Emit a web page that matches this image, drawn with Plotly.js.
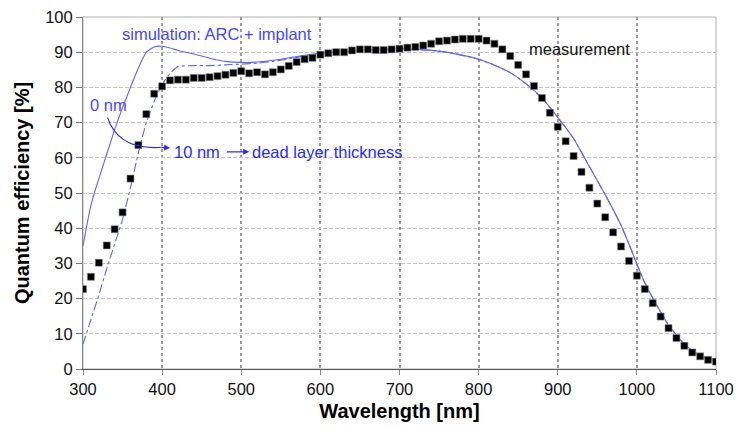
<!DOCTYPE html>
<html>
<head>
<meta charset="utf-8">
<script src="https://cdn.plot.ly/plotly-3.0.1.min.js"></script>
<style>html,body{margin:0;padding:0;background:#fff;}#chart{width:752px;height:429px;}</style>
</head>
<body>
<div id="chart"></div>
<script>
// Measurement (every 10 nm)
const wavelength = [300,310,320,330,340,350,360,370,380,390,400,410,420,430,440,450,460,470,480,490,
  500,510,520,530,540,550,560,570,580,590,600,610,620,630,640,650,660,670,680,690,
  700,710,720,730,740,750,760,770,780,790,800,810,820,830,840,850,860,870,880,890,
  900,910,920,930,940,950,960,970,980,990,1000,1010,1020,1030,1040,1050,1060,1070,1080,1090,1100];
const measured = [22.7,26.2,30.2,35.1,39.7,44.5,54.1,63.6,72.4,78.2,80.3,82.0,82.2,82.2,82.7,82.7,82.9,83.2,83.6,84.1,
  84.6,84.0,84.3,83.7,84.3,85.1,86.1,87.2,88.0,88.4,89.3,89.7,90.0,90.0,90.5,90.8,90.8,90.6,90.6,90.8,
  91.0,91.3,91.5,91.9,92.4,93.1,93.3,93.6,93.8,93.8,93.8,93.3,92.4,90.8,88.9,86.4,83.7,80.4,77.0,72.8,
  68.8,64.7,60.5,56.0,51.5,47.0,43.1,38.8,34.8,30.7,26.5,22.7,18.7,14.9,11.6,8.8,6.6,4.7,3.6,2.6,2.1];

// Simulation, 0 nm dead layer
const sim0X = [300,305,310,315,320,330,340,350,360,370,380,390,400,410,420,440,460,480,500,520,540,560,580,600,
  620,650,700,750,780,800,820,840,860,880,900,920,940,960,970,980,990,1000,1010,1020,1040,1060,1080,1100];
const sim0Y = [35,41,46.5,50.5,54,61,68,74.3,80,85.5,90,91.5,91.7,91.2,90.5,89.5,88.3,87.4,87.1,87.2,87.7,88.4,89.1,89.7,
  90.1,90.5,91.0,90.3,89.1,88.0,86.3,84.2,81.0,77.0,71.5,65.5,57.5,49.5,45.3,40.8,35.5,29.8,24.5,20.2,12.5,7.0,3.8,2.2];

// Simulation, 10 nm dead layer
const sim10X = [300,310,320,330,340,350,360,370,380,390,400,410,420,440,460,480,500,520,540,560,580,600,
  620,650,700,750,780,800,820,840,860,880,900,920,940,960,970,980,990,1000,1010,1020,1040,1060,1080,1100];
const sim10Y = [7,14,21,28.5,35.5,42.5,51.5,61.5,70,76,80.8,84,85.9,86.2,86.2,86.4,86.6,86.9,87.4,88.1,88.9,89.7,
  90.1,90.5,91.0,90.3,89.1,88.0,86.3,84.2,81.0,77.0,71.5,65.5,57.5,49.5,45.3,40.8,35.5,29.8,24.5,20.2,12.5,7.0,3.8,2.2];

const xTicks = [300,400,500,600,700,800,900,1000,1100];
const yTicks = [0,10,20,30,40,50,60,70,80,90,100];

const FONT = '"Liberation Sans", Arial, sans-serif';
const simColor = '#6262ff';

const traces = [
  {x: sim0X, y: sim0Y, mode: 'lines', line: {color: simColor, width: 1.1, shape: 'spline', smoothing: 0.5}, hoverinfo: 'skip'},
  {x: sim10X, y: sim10Y, mode: 'lines', line: {color: simColor, width: 1.1, dash: 'dashdot', shape: 'spline', smoothing: 0.5}, hoverinfo: 'skip'},
  {x: wavelength, y: measured, mode: 'markers', marker: {symbol: 'square', size: 7, color: '#000',
     line: {color: '#888', width: 0.6}}}
];

const layout = {
  width: 752, height: 429,
  margin: {l: 83, r: 36, t: 17, b: 60},
  paper_bgcolor: '#fff', plot_bgcolor: '#fff',
  showlegend: false,
  font: {family: FONT, size: 16.5, color: '#111'},
  xaxis: {
    range: [300, 1100], tickvals: xTicks, ticktext: xTicks.map(String),
    ticks: 'outside', ticklen: 5, tickcolor: '#888', tickwidth: 1,
    showline: true, linecolor: '#555', linewidth: 1,
    showgrid: true, gridcolor: '#9a9a9a', gridwidth: 2, griddash: 'dot',
    zeroline: false,
    tickfont: {family: FONT, size: 16.5, color: '#111'},
    title: {text: 'Wavelength [nm]', font: {family: FONT, size: 20, color: '#000', weight: 'bold'}, standoff: 7}
  },
  yaxis: {
    range: [0, 100], tickvals: yTicks, ticktext: yTicks.map(String),
    ticks: 'outside', ticklen: 6, tickcolor: '#777', tickwidth: 1,
    showline: true, linecolor: '#888', linewidth: 1,
    showgrid: true, gridcolor: '#c4c4c4', gridwidth: 1, griddash: '4px,2px',
    zeroline: false,
    tickfont: {family: FONT, size: 16.5, color: '#111'},
    title: {text: 'Quantum efficiency [%]', font: {family: FONT, size: 20, color: '#000', weight: 'bold'}, standoff: 10}
  },
  shapes: [
    {type: 'rect', xref: 'paper', yref: 'paper', x0: 0, x1: 1, y0: 0, y1: 1,
     line: {color: '#b0b0b0', width: 1}, layer: 'below'},
    {type: 'path', xref: 'x', yref: 'y', path: 'M 331,71.4 Q 345,62 400,63',
     line: {color: '#2a2aff', width: 1.2}}
  ],
  annotations: [
    {x: 469, y: 95.3, xref: 'x', yref: 'y', text: 'simulation: ARC + implant', showarrow: false,
     font: {family: FONT, size: 16.5, color: '#4646ff'}},
    {x: 332.5, y: 74.9, xref: 'x', yref: 'y', text: '0 nm', showarrow: false,
     font: {family: FONT, size: 16.5, color: '#4a4aff'}},
    {x: 444, y: 61.7, xref: 'x', yref: 'y', text: '10 nm', showarrow: false,
     font: {family: FONT, size: 16.5, color: '#2a2aff'}},
    {x: 608.5, y: 61.7, xref: 'x', yref: 'y', text: 'dead layer thickness', showarrow: false,
     font: {family: FONT, size: 16.5, color: '#2a2aff'}},
    {x: 928, y: 91.0, xref: 'x', yref: 'y', text: 'measurement', showarrow: false,
     font: {family: FONT, size: 16.5, color: '#111'}},
    {x: 410, y: 62.8, xref: 'x', yref: 'y', ax: 398, ay: 63.0, axref: 'x', ayref: 'y',
     text: '', showarrow: true, arrowhead: 2, arrowsize: 1, arrowwidth: 1.2, arrowcolor: '#2a2aff', standoff: 0},
    {x: 510, y: 61.7, xref: 'x', yref: 'y', ax: 480, ay: 61.7, axref: 'x', ayref: 'y',
     text: '', showarrow: true, arrowhead: 2, arrowsize: 1, arrowwidth: 1.2, arrowcolor: '#2a2aff', standoff: 0}
  ]
};

Plotly.newPlot('chart', traces, layout, {displayModeBar: false, staticPlot: true});
</script>
</body>
</html>
